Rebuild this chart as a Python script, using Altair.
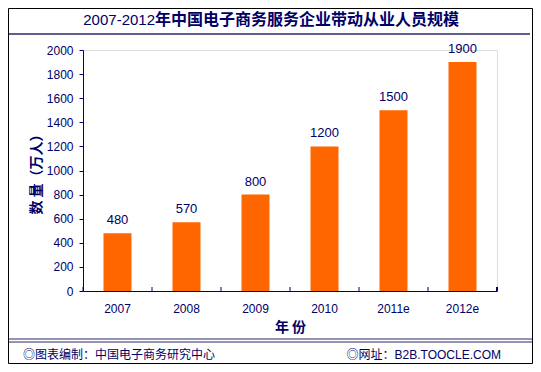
import altair as alt
import pandas as pd

years = ["2007", "2008", "2009", "2010", "2011e", "2012e"]
values = [480, 570, 800, 1200, 1500, 1900]
y_ticks = [0, 200, 400, 600, 800, 1000, 1200, 1400, 1600, 1800, 2000]

title_a = "2007-2012"
title_b = "年中国电子商务服务企业带动从业人员规模"
y_title = "数 量（万人）"
x_title = "年 份"
foot_left = "◎图表编制：中国电子商务研究中心"
foot_right = "◎网址：B2B.TOOCLE.COM"

NAVY = "#000066"
LINE = "#2a2a66"
ORANGE = "#FF6600"
FONT = "Liberation Sans, Noto Sans CJK SC"
CJK = "Noto Sans CJK SC"

df = pd.DataFrame({"year": years, "value": values})

W, H = 414, 241
PL, PT = 75, 42
CW, CH = 525, 356

x_axis = alt.Axis(title=x_title, labelAngle=0, ticks=False,
                  labelPadding=12, labelFont=FONT, labelFontSize=12,
                  labelColor=NAVY, domainColor=NAVY,
                  titleFont=CJK, titleFontSize=14, titleFontWeight="bold",
                  titleColor=NAVY, titleY=36, titleBaseline="middle")
x_scale = alt.Scale(paddingInner=0, paddingOuter=0)


def xenc(**kw):
    return alt.X("year:N", sort=years, scale=x_scale, axis=x_axis, **kw)


yenc = alt.Y("value:Q", scale=alt.Scale(domain=[0, 2000], nice=False, zero=True),
             axis=alt.Axis(title=y_title, values=y_ticks, grid=False, format="d",
                           labelOverlap=False, labelFlush=False,
                           tickSize=4, tickColor=NAVY, domainColor=NAVY,
                           labelPadding=6, labelFont=FONT, labelFontSize=12,
                           labelColor=NAVY, titleFont=CJK, titleFontSize=14,
                           titleFontWeight="bold", titleColor=NAVY,
                           titleAngle=-90, titleX=-47, titleY=H / 2,
                           titleAlign="center", titleBaseline="middle"))

base = alt.Chart(df)

bars = base.mark_bar(size=28, color=ORANGE).encode(x=xenc(), y=yenc)
labels = base.mark_text(baseline="bottom", dy=-6, font=FONT, fontSize=13,
                        color=NAVY).encode(x=xenc(), y=yenc, text="value:Q")

xticks = base.mark_rule(color=NAVY, strokeWidth=1).encode(
    x=xenc(bandPosition=0),
    y=alt.value(H - 4), y2=alt.value(H))
endtick = base.mark_rule(color=NAVY, strokeWidth=1).encode(
    x=alt.value(W), y=alt.value(H - 4), y2=alt.value(H))

one = alt.Chart(pd.DataFrame({"k": [0]}))

border = one.mark_rect(fill=None, stroke="#000000", strokeWidth=1).encode(
    x=alt.value(-PL + 0.5), x2=alt.value(CW - PL - 0.5),
    y=alt.value(-PT + 0.5), y2=alt.value(CH - PT - 0.5))
top_line = one.mark_rule(color=LINE, strokeWidth=1.5).encode(
    x=alt.value(-PL + 1), x2=alt.value(CW - PL - 3), y=alt.value(-16))
bot_line1 = one.mark_rule(color=LINE, strokeWidth=1.2).encode(
    x=alt.value(-PL + 1), x2=alt.value(CW - PL - 1), y=alt.value(289))
bot_line2 = one.mark_rule(color=LINE, strokeWidth=1.2).encode(
    x=alt.value(-PL + 1), x2=alt.value(CW - PL - 1), y=alt.value(292))

t1 = one.mark_text(align="right", baseline="middle", font=FONT, fontSize=15,
                   color=NAVY).encode(
    x=alt.value(72), y=alt.value(-30), text=alt.value(title_a))
t2 = one.mark_text(align="left", baseline="middle", font=CJK, fontSize=16,
                   fontWeight="bold", color=NAVY).encode(
    x=alt.value(72), y=alt.value(-30), text=alt.value(title_b))
f1 = one.mark_text(align="left", baseline="middle", font=CJK, fontSize=12,
                   color=NAVY).encode(
    x=alt.value(-60), y=alt.value(305), text=alt.value(foot_left))
f2 = one.mark_text(align="right", baseline="middle", font=FONT, fontSize=12,
                   color=NAVY).encode(
    x=alt.value(418), y=alt.value(305), text=alt.value(foot_right))

chart = alt.layer(bars, labels, xticks, endtick, border, top_line,
                  bot_line1, bot_line2, t1, t2, f1, f2).properties(
    width=W, height=H,
    autosize=alt.AutoSizeParams(type="none"),
    padding={"left": PL, "top": PT, "right": CW - PL - W, "bottom": CH - PT - H},
).configure_view(stroke=None).configure(background="white")

chart.save("out.html", embed_options={"renderer": "svg", "actions": False})
